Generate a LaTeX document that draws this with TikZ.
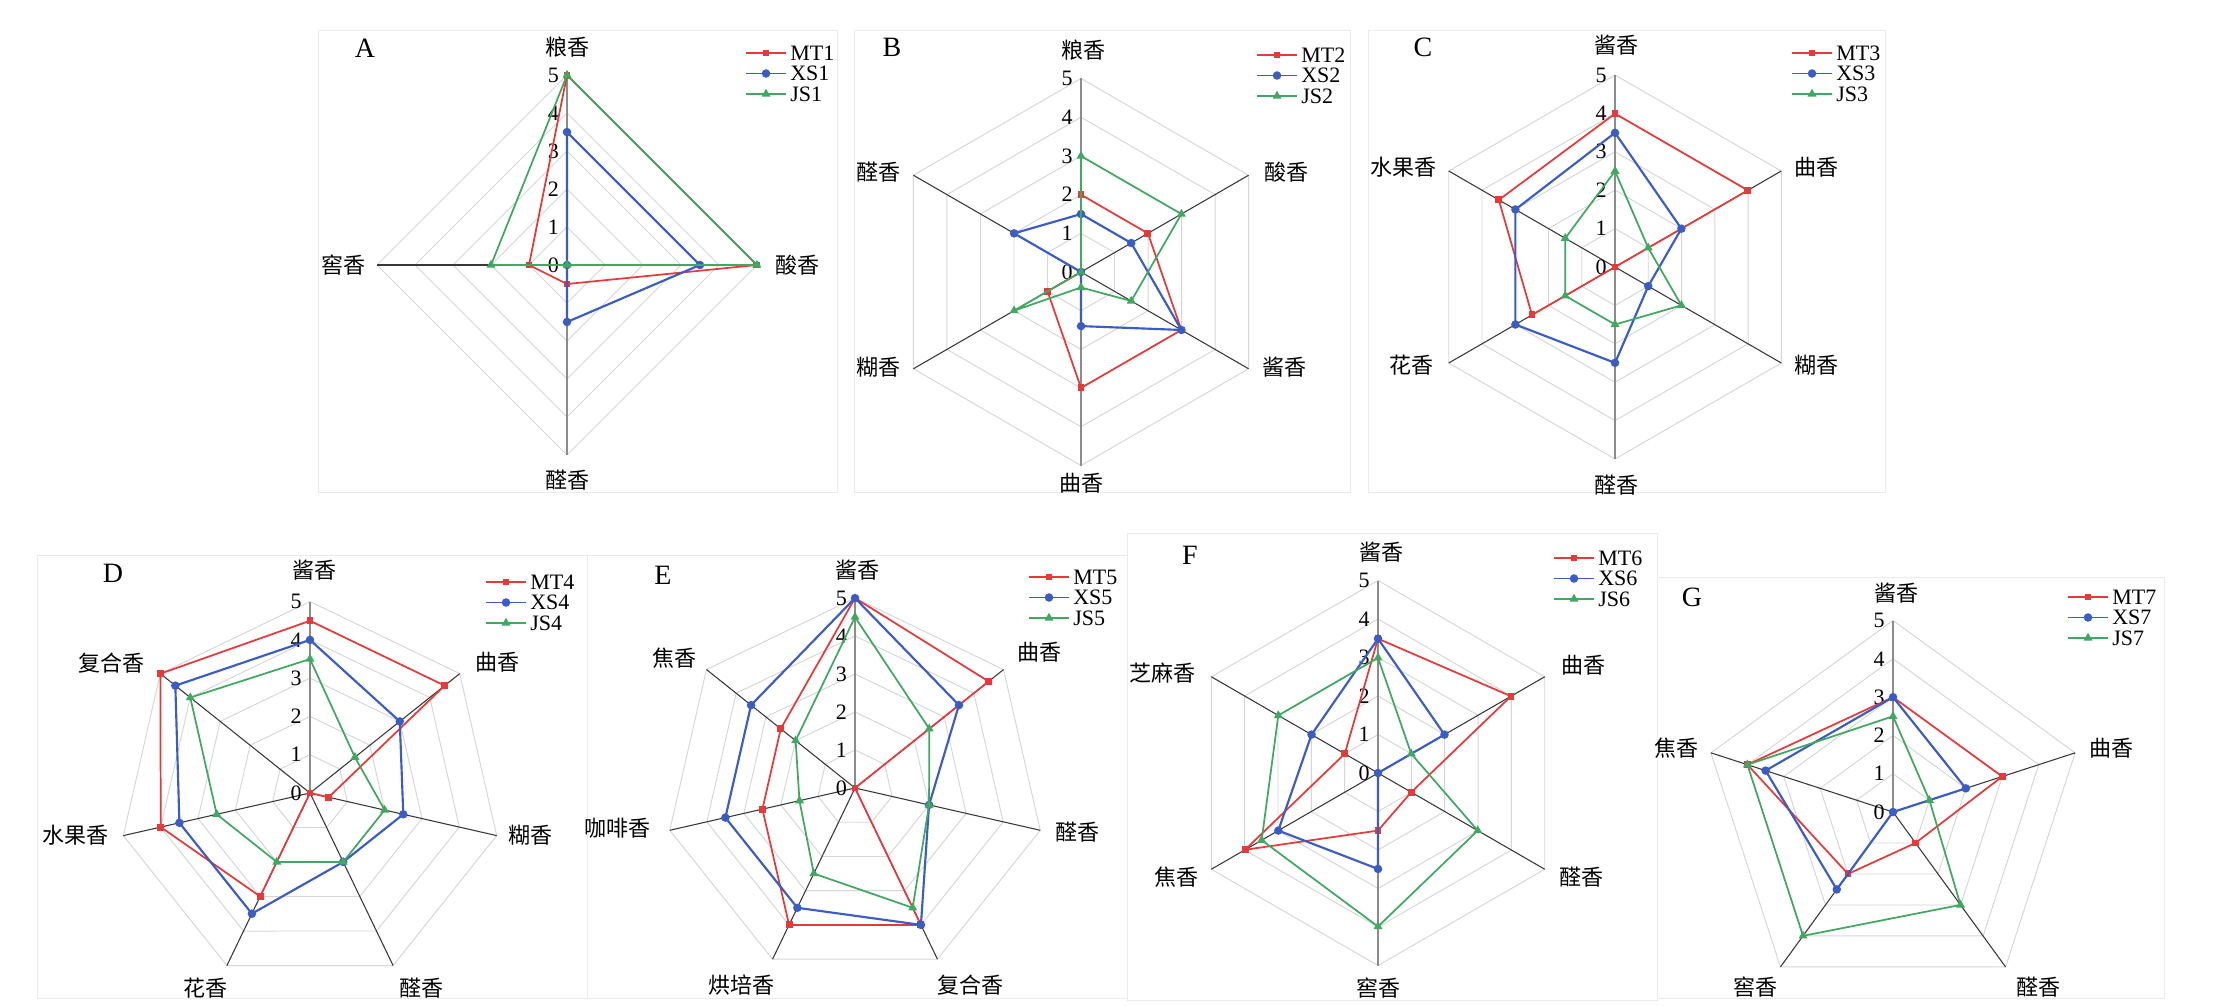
\documentclass[tikz,border=0pt]{standalone}
\usepackage{fontspec}
\setmainfont{Liberation Serif}
\newfontfamily\cjk{Noto Sans CJK SC}
\usetikzlibrary{shapes.geometric}
\definecolor{mtred}{RGB}{230,57,57}
\definecolor{xsblue}{RGB}{58,92,196}
\definecolor{jsgreen}{RGB}{64,168,96}
\tikzset{
	panelbox/.style={draw=black!8, line width=0.6pt},
	ring/.style={draw=black!16, line width=0.7pt},
	spoke/.style={draw=black!78, line width=0.8pt},
	vaxis/.style={draw=black!45, line width=0.8pt},
	ticklab/.style={font=\fontsize{16.5}{16.5}\selectfont, inner sep=0pt},
	axlabel/.style={font=\cjk\fontsize{16.5}{16.5}\selectfont, inner sep=0pt},
	keytext/.style={font=\fontsize{16.5}{16.5}\selectfont, anchor=west, inner sep=3pt},
	paneltag/.style={font=\fontsize{21}{21}\selectfont, inner sep=0pt},
	mtline/.style={draw=mtred, line width=1.3pt, line join=round},
	xsline/.style={draw=xsblue, line width=1.6pt, line join=round},
	jsline/.style={draw=jsgreen, line width=1.3pt, line join=round},
	mtdot/.style={rectangle, fill=mtred, minimum size=5.2pt, inner sep=0pt},
	xsdot/.style={circle, fill=xsblue, minimum size=6.4pt, inner sep=0pt},
	jsdot/.style={regular polygon, regular polygon sides=3, fill=jsgreen, minimum size=7.8pt, inner sep=0pt}
}
% rings, spokes and scale of one radar chart
\newcommand{\webgrid}[2]{
	\foreach \lv in {1,...,5} {
		\draw[ring] (90:\lv) \foreach \ax in {1,...,#1} { -- ({90-360/#1*\ax}:\lv) } -- cycle;
	}
	\foreach \ax in {1,...,#1} {
		\draw[spoke] (0,0) -- ({90-360/#1*\ax}:5);
	}
	\draw[vaxis] (0,0) -- (0,5);
	\foreach \lv in {0,...,5} {
		\node[ticklab] (#2-t\lv) at (-0.36,\lv) {\lv};
	}
}
% one sample: style prefix, number of axes, scores, name
\newcommand{\scoreline}[4]{
	\foreach \val [count=\ax] in {#3} {
		\coordinate (#4-\ax) at ({90-360/#2*(\ax-1)}:\val);
	}
	\draw[#1line] (#4-1) \foreach \ax in {2,...,#2} { -- (#4-\ax) } -- cycle;
	\foreach \ax in {1,...,#2} {
		\node[#1dot] (#4-d\ax) at (#4-\ax) {};
	}
}
% legend: x, y, sample number, panel
\newcommand{\keybox}[4]{
	\node[keytext] (#4-k1) at (#1,#2) {MT#3};
	\node[keytext] (#4-k2) at (#1,#2+20.5) {XS#3};
	\node[keytext] (#4-k3) at (#1,#2+41) {JS#3};
	\coordinate (#4-s1) at (#1-40,#2);
	\coordinate (#4-s2) at (#1-40,#2+20.5);
	\coordinate (#4-s3) at (#1-40,#2+41);
	\draw[mtline, line width=1pt] (#4-s1) -- node[mtdot] (#4-m1) {} (#4-k1.west);
	\draw[xsline, line width=1pt] (#4-s2) -- node[xsdot] (#4-m2) {} (#4-k2.west);
	\draw[jsline, line width=1pt] (#4-s3) -- node[jsdot] (#4-m3) {} (#4-k3.west);
}

\begin{document}
\begin{tikzpicture}[x=0.75pt, y=-0.75pt]
	\useasboundingbox (0,0) rectangle (2226,1006);
	\fill[white] (0,0) rectangle (2226,1006);

	% A
	\draw[panelbox] (318,30) rectangle (837,492);
	\begin{scope}[shift={(567,265)}, scale=38, yscale=-1]
		\webgrid{4}{A}
		\draw[vaxis] (0,0) -- (0,-5);
		\scoreline{mt}{4}{5,5,0.5,1}{A-mt}
		\scoreline{xs}{4}{3.5,3.5,1.5,0}{A-xs}
		\scoreline{js}{4}{5,5,0,2}{A-js}
	\end{scope}
	\foreach \lab/\x/\y [count=\i] in {粮香/567/47, 酸香/797/265, 醛香/567/480, 窖香/343/265}
		\node[axlabel] (A-a\i) at (\x,\y) {\lab};
	\node[paneltag] (A-tag) at (365,48) {A};
	\keybox{786}{53}{1}{A}

	% B
	\draw[panelbox] (854,30) rectangle (1350,492);
	\begin{scope}[shift={(1081,272)}, scale=38.7, yscale=-1]
		\webgrid{6}{B}
		\draw[vaxis] (0,0) -- (0,-5);
		\scoreline{mt}{6}{2,2,3,3,1,0}{B-mt}
		\scoreline{xs}{6}{1.5,1.5,3,1.4,0,2}{B-xs}
		\scoreline{js}{6}{3,3,1.5,0.4,2,0}{B-js}
	\end{scope}
	\foreach \lab/\x/\y [count=\i] in {粮香/1083/50, 酸香/1286/172, 酱香/1284/367, 曲香/1081/483, 糊香/878/367, 醛香/878/172}
		\node[axlabel] (B-a\i) at (\x,\y) {\lab};
	\node[paneltag] (B-tag) at (892,47) {B};
	\keybox{1297}{55}{2}{B}

	% C
	\draw[panelbox] (1368,30) rectangle (1885,492);
	\begin{scope}[shift={(1615,267)}, scale=38.4, yscale=-1]
		\webgrid{6}{C}
		\draw[vaxis] (0,0) -- (0,-5);
		\scoreline{mt}{6}{4,4,0,0,2.5,3.5}{C-mt}
		\scoreline{xs}{6}{3.5,2,1,2.5,3,3}{C-xs}
		\scoreline{js}{6}{2.5,1,2,1.5,1.5,1.5}{C-js}
	\end{scope}
	\foreach \lab/\x/\y [count=\i] in {酱香/1616/45, 曲香/1816/167, 糊香/1816/365, 醛香/1616/485, 花香/1411/365, 水果香/1403/167}
		\node[axlabel] (C-a\i) at (\x,\y) {\lab};
	\node[paneltag] (C-tag) at (1423,47) {C};
	\keybox{1832}{53}{3}{C}

	% D
	\draw[panelbox] (37,555) rectangle (587,998);
	\begin{scope}[shift={(310,793)}, scale=38.3, yscale=-1]
		\webgrid{7}{D}
		\scoreline{mt}{7}{4.5,4.5,0.5,0,3,4,5}{D-mt}
		\scoreline{xs}{7}{4,3,2.5,2,3.5,3.5,4.5}{D-xs}
		\scoreline{js}{7}{3.5,1.5,2,2,2,2.5,4}{D-js}
	\end{scope}
	\foreach \lab/\x/\y [count=\i] in {酱香/314/570, 曲香/497/662, 糊香/530/835, 醛香/421/988, 花香/205/988, 水果香/75/835, 复合香/111/663}
		\node[axlabel] (D-a\i) at (\x,\y) {\lab};
	\node[paneltag] (D-tag) at (113,573) {D};
	\keybox{526}{582}{4}{D}

	% E
	\draw[panelbox] (587,555) rectangle (1127,998);
	\begin{scope}[shift={(855,788)}, scale=38, yscale=-1]
		\webgrid{7}{E}
		\scoreline{mt}{7}{5,4.5,0,4,4,2.5,2.5}{E-mt}
		\scoreline{xs}{7}{5,3.5,2,4,3.5,3.5,3.5}{E-xs}
		\scoreline{js}{7}{4.5,2.5,2,3.5,2.5,1.5,2}{E-js}
	\end{scope}
	\foreach \lab/\x/\y [count=\i] in {酱香/857/570, 曲香/1039/652, 醛香/1077/832, 复合香/970/985, 烘培香/741/985, 咖啡香/617/828, 焦香/674/658}
		\node[axlabel] (E-a\i) at (\x,\y) {\lab};
	\node[paneltag] (E-tag) at (663,575) {E};
	\keybox{1069}{577}{5}{E}

	% F
	\draw[panelbox] (1127,533) rectangle (1657,1000);
	\begin{scope}[shift={(1378,773)}, scale=38.5, yscale=-1]
		\webgrid{6}{F}
		\draw[vaxis] (0,0) -- (0,-5);
		\scoreline{mt}{6}{3.5,4,1,1.5,4,1}{F-mt}
		\scoreline{xs}{6}{3.5,2,0,2.5,3,2}{F-xs}
		\scoreline{js}{6}{3,1,3,4,3.5,3}{F-js}
	\end{scope}
	\foreach \lab/\x/\y [count=\i] in {酱香/1381/552, 曲香/1583/665, 醛香/1581/877, 窖香/1378/988, 焦香/1176/877, 芝麻香/1162/673}
		\node[axlabel] (F-a\i) at (\x,\y) {\lab};
	\node[paneltag] (F-tag) at (1190,555) {F};
	\keybox{1594}{558}{6}{F}

	% G
	\draw[panelbox] (1657,577) rectangle (2164,998);
	\begin{scope}[shift={(1893,812)}, scale=38.3, yscale=-1]
		\webgrid{5}{G}
		\scoreline{mt}{5}{3,3,1,2,4}{G-mt}
		\scoreline{xs}{5}{3,2,0,2.5,3.5}{G-xs}
		\scoreline{js}{5}{2.5,1,3,4,4}{G-js}
	\end{scope}
	\foreach \lab/\x/\y [count=\i] in {酱香/1896/593, 曲香/2111/748, 醛香/2038/987, 窖香/1755/987, 焦香/1676/748}
		\node[axlabel] (G-a\i) at (\x,\y) {\lab};
	\node[paneltag] (G-tag) at (1692,597) {G};
	\keybox{2108}{597}{7}{G}
\end{tikzpicture}
\end{document}
